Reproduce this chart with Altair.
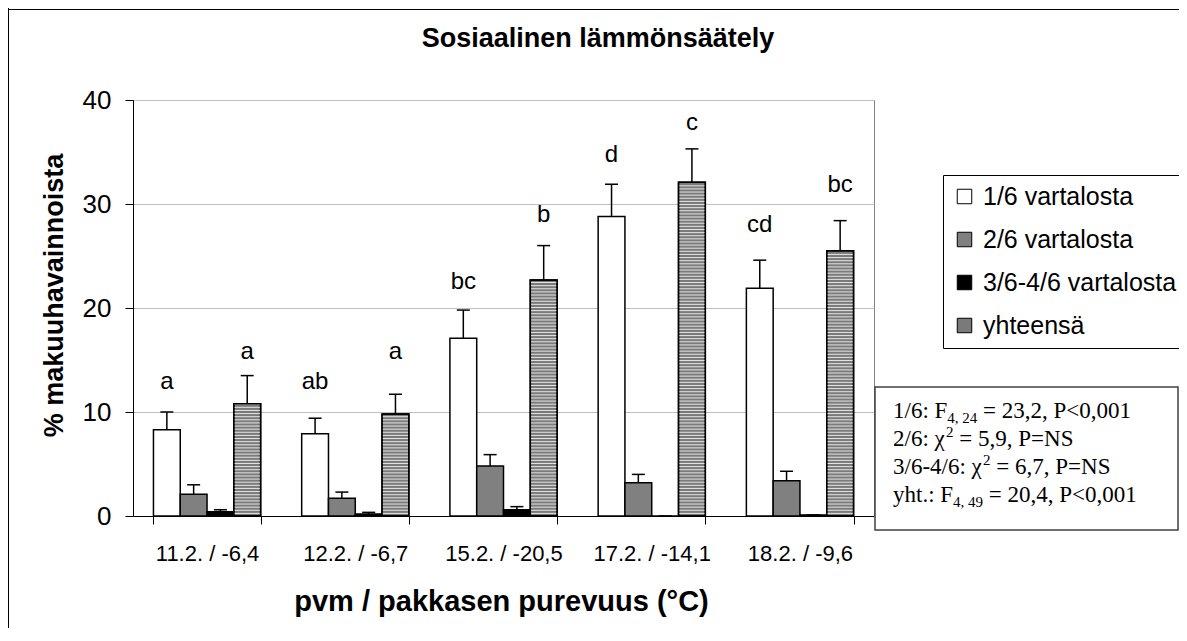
import altair as alt
import pandas as pd

# ---------------- data ----------------
categories = ["11.2. / -6,4", "12.2. / -6,7", "15.2. / -20,5", "17.2. / -14,1", "18.2. / -9,6"]
series = ["1/6 vartalosta", "2/6 vartalosta", "3/6-4/6 vartalosta", "yhteensä"]
fills = ["#ffffff", "#808080", "#000000", "#7a7a7a"]

mean_16 = [8.3, 7.9, 17.1, 28.8, 21.9]
se_16 = [1.7, 1.5, 2.7, 3.1, 2.7]
mean_26 = [2.1, 1.7, 4.8, 3.2, 3.4]
se_26 = [0.9, 0.6, 1.1, 0.8, 0.9]
mean_36 = [0.4, 0.2, 0.6, 0.0, 0.1]
se_36 = [0.2, 0.15, 0.3, 0.0, 0.0]
mean_yht = [10.8, 9.8, 22.7, 32.1, 25.5]
se_yht = [2.7, 1.9, 3.3, 3.2, 2.9]

letters_16 = ["a", "ab", "bc", "d", "cd"]
letters_16_y = [12.9, 12.9, 22.5, 34.7, 28.0]
letters_yht = ["a", "a", "b", "c", "bc"]
letters_yht_y = [15.8, 15.8, 28.9, 37.8, 31.8]

# statistics text box: (text, style) segments per line; style n=normal, sub, sup
stats_lines = [
    [("1/6: F", "n"), ("4, 24", "sub"), (" = 23,2, P<0,001", "n")],
    [("2/6: \u03c7", "n"), ("2", "sup"), (" = 5,9, P=NS", "n")],
    [("3/6-4/6: \u03c7", "n"), ("2", "sup"), (" = 6,7, P=NS", "n")],
    [("yht.: F", "n"), ("4, 49", "sub"), (" = 20,4, P<0,001", "n")],
]

title_text = "Sosiaalinen lämmönsäätely"
y_title = "% makuuhavainnoista"
x_title = "pvm / pakkasen purevuus (°C)"

# ---------------- tables ----------------
means = [mean_16, mean_26, mean_36, mean_yht]
ses = [se_16, se_26, se_36, se_yht]
rows = []
for s, m, e in zip(series, means, ses):
    for c, v, d in zip(categories, m, e):
        rows.append({"cat": c, "series": s, "value": v, "top": round(v + d, 2)})
bars_df = pd.DataFrame(rows)

lrows = []
for c, l, ly in zip(categories, letters_16, letters_16_y):
    lrows.append({"cat": c, "series": series[0], "letter": l, "ly": ly})
for c, l, ly in zip(categories, letters_yht, letters_yht_y):
    lrows.append({"cat": c, "series": series[3], "letter": l, "ly": ly})
letters_df = pd.DataFrame(lrows)

one_df = pd.DataFrame({"k": [0]})

FONT = "Liberation Sans"
SERIF = "Liberation Serif"
W, H = 741, 416

x_axis = alt.Axis(
    title=x_title, labelAngle=0, labelFontSize=22, labelPadding=19, labelColor="black",
    tickSize=8, tickColor="black", tickBand="extent", domainColor="black",
    titleFontSize=29, titleFontWeight="bold", titleColor="black",
    titleX=368, titleY=94, titleBaseline="alphabetic",
)
y_axis = alt.Axis(
    title=y_title, values=[0, 10, 20, 30, 40], labelFontSize=26, labelPadding=14,
    labelColor="black", tickSize=8, tickColor="black", domainColor="black",
    grid=True, gridColor="#c0c0c0",
    titleFontSize=27, titleFontWeight="bold", titleColor="black",
    titleX=-71, titleY=195, titleBaseline="alphabetic",
)


def X():
    return alt.X("cat:N", sort=categories,
                 scale=alt.Scale(domain=categories, paddingInner=0.277, paddingOuter=0.138),
                 axis=x_axis)


def XO():
    return alt.XOffset("series:N", sort=series,
                       scale=alt.Scale(domain=series, paddingInner=0, paddingOuter=0))


def Y(field):
    return alt.Y(field, scale=alt.Scale(domain=[0, 40], nice=False), axis=y_axis)


base = alt.Chart(bars_df)

LEG_X, LEG_Y, LEG_PAD, LEG_FS, LEG_ROW, SYM = 810, 75, 9, 25, 17, 210

bars = base.mark_bar(stroke="black", strokeWidth=1.5).encode(
    x=X(), xOffset=XO(), y=Y("value:Q"),
    color=alt.Color(
        "series:N", sort=series,
        scale=alt.Scale(domain=series, range=fills),
        legend=alt.Legend(
            title=None, orient="none", legendX=LEG_X, legendY=LEG_Y, direction="vertical",
            fillColor="white", strokeColor="black", padding=LEG_PAD,
            labelFontSize=LEG_FS, labelFont=FONT, labelColor="black", labelLimit=400,
            symbolType="square", symbolSize=SYM, symbolStrokeColor="black",
            symbolStrokeWidth=1, symbolOpacity=1, rowPadding=LEG_ROW, labelOffset=6,
        ),
    ),
)

hatch = (
    base.transform_filter(alt.datum.series == series[3])
    .transform_calculate(h="sequence(0.2, datum.value - 0.1, 0.3)")
    .transform_flatten(["h"])
    .transform_calculate(h2="datum.h + 0.1")
    .mark_bar(color="#e2e2e2")
    .encode(x=X(), xOffset=XO(), y=Y("h:Q"), y2="h2:Q")
)

outline = (
    base.transform_filter(alt.datum.series == series[3])
    .mark_bar(fillOpacity=0, stroke="black", strokeWidth=1.5)
    .encode(x=X(), xOffset=XO(), y=Y("value:Q"))
)

err = base.mark_rule(color="black", strokeWidth=1.5).encode(
    x=X(), xOffset=XO(), y=Y("value:Q"), y2="top:Q"
)
cap = base.mark_tick(color="black", thickness=1.5, size=13, opacity=1).encode(
    x=X(), xOffset=XO(), y=Y("top:Q")
)

letters = alt.Chart(letters_df).mark_text(
    fontSize=24, font=FONT, color="black", baseline="middle", align="center"
).encode(x=X(), xOffset=XO(), y=Y("ly:Q"), text="letter:N")

# ---- title as a text mark, centred over the whole chart area ----
title = alt.Chart(one_df).mark_text(
    text=title_text, font=FONT, fontSize=27, fontWeight="bold", color="black",
    align="center", baseline="alphabetic", clip=False,
).encode(x=alt.value(465), y=alt.value(-53))

# ---- stripes on the "yhteensä" legend symbol ----
sym_side = SYM ** 0.5
sym_cx = LEG_X + LEG_PAD + sym_side / 2 + 0.5
sym_cy = LEG_Y + LEG_PAD + 3 * (LEG_FS + LEG_ROW) + LEG_FS / 2
leg_stripes = [
    alt.Chart(one_df).mark_rule(color="#e2e2e2", strokeWidth=1, clip=False).encode(
        x=alt.value(sym_cx - sym_side / 2 + 1.5), x2=alt.value(sym_cx + sym_side / 2 - 1.5),
        y=alt.value(sym_cy + off),
    )
    for off in (-4.5, -1.5, 1.5, 4.5)
]

# ---- statistics box ----
stats_box = alt.Chart(one_df).mark_rect(
    fill="white", stroke="#404040", strokeWidth=1.5, clip=False
).encode(x=alt.value(742), x2=alt.value(1045), y=alt.value(287), y2=alt.value(430))

# Times-compatible advance widths (per 1000 em) for placing sub/superscripts
TW = {"0": 500, "1": 500, "2": 500, "3": 500, "4": 500, "5": 500, "6": 500, "7": 500,
      "8": 500, "9": 500, "/": 278, ":": 278, " ": 250, "F": 556, ",": 250, "=": 564,
      "P": 556, "<": 564, "N": 722, "S": 556, "-": 333, "y": 500, "h": 500, "t": 278,
      ".": 250, "\u03c7": 500}
MAIN, SMALL = 23, 15
stat_layers = []
for i, line in enumerate(stats_lines):
    xpos = 760.0
    ybase = 318 + 28 * i
    for txt, style in line:
        size = MAIN if style == "n" else SMALL
        dy = {"n": 0, "sub": 5, "sup": -9}[style]
        # leading spaces are collapsed in SVG text, so advance past them explicitly
        while txt.startswith(" "):
            xpos += TW[" "] * size / 1000.0
            txt = txt[1:]
        stat_layers.append(
            alt.Chart(one_df).mark_text(
                text=txt, font=SERIF, fontSize=size, align="left", baseline="alphabetic",
                color="black", clip=False,
            ).encode(x=alt.value(round(xpos, 1)), y=alt.value(ybase + dy))
        )
        xpos += sum(TW.get(ch, 500) for ch in txt) * size / 1000.0

frame_left = alt.Chart(one_df).mark_rule(color="black", strokeWidth=1, clip=False).encode(
    x=alt.value(-124.5), y=alt.value(-92), y2=alt.value(528)
)
frame_top = alt.Chart(one_df).mark_rule(color="black", strokeWidth=1, clip=False).encode(
    x=alt.value(-125), x2=alt.value(1046), y=alt.value(-90.5)
)

chart = (
    alt.layer(bars, hatch, outline, err, cap, letters, title, stats_box, *stat_layers,
              *leg_stripes, frame_left, frame_top)
    .properties(
        width=W, height=H,
        autosize=alt.AutoSizeParams(type="none"),
        padding={"left": 125, "top": 92, "right": 305, "bottom": 112},
        background="white",
    )
    .configure(font=FONT)
    .configure_view(stroke="#808080", strokeWidth=1)
)

chart.save("out.html", embed_options={"renderer": "svg", "actions": False})
